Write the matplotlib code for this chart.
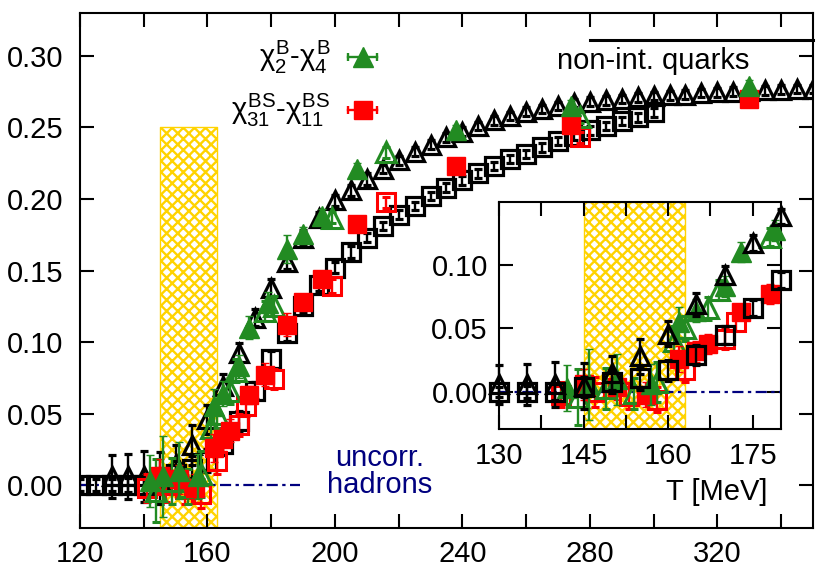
import matplotlib
matplotlib.use('Agg')
import matplotlib.pyplot as plt
import numpy as np

plt.rcParams['font.family'] = ['Liberation Sans', 'DejaVu Sans']
plt.rcParams['mathtext.fontset'] = 'custom'
plt.rcParams['mathtext.rm'] = 'Liberation Sans'
plt.rcParams['mathtext.it'] = 'Liberation Sans'
plt.rcParams['mathtext.bf'] = 'Liberation Sans:bold'
plt.rcParams['hatch.linewidth'] = 1.7

# continuum estimates (black)
T_tri = [130, 135, 140, 145, 150, 155, 160, 165, 170, 175, 180, 185, 190, 195, 200,
         205, 210, 215, 220, 225, 230, 235, 240, 245, 250, 255, 260, 265, 270, 275,
         280, 285, 290, 295, 300, 305, 310, 315, 320, 325, 330, 335, 340, 345, 350]
v_tri = [0.006, 0.006, 0.006, 0.005, 0.015, 0.028, 0.046, 0.069, 0.092, 0.117, 0.138,
         0.156, 0.173, 0.187, 0.199, 0.206, 0.214, 0.221, 0.227, 0.233, 0.238, 0.243,
         0.247, 0.251, 0.255, 0.258, 0.261, 0.263, 0.265, 0.267, 0.268, 0.269, 0.270,
         0.271, 0.272, 0.2725, 0.273, 0.274, 0.2745, 0.275, 0.2755, 0.276, 0.2765,
         0.277, 0.277]
e_tri = [0.015, 0.016, 0.018, 0.018, 0.013, 0.014, 0.010, 0.009, 0.007, 0.006, 0.006,
         0.005, 0.005, 0.004, 0.004, 0.004, 0.004, 0.003, 0.003, 0.003, 0.003, 0.003,
         0.003, 0.003, 0.003, 0.003, 0.003, 0.003, 0.003, 0.003, 0.003, 0.003, 0.003,
         0.003, 0.003, 0.003, 0.003, 0.003, 0.003, 0.003, 0.003, 0.003, 0.003, 0.003,
         0.003]

T_sq = [120, 125, 130, 135, 140, 145, 150, 155, 160, 165, 170, 175, 180, 185, 190,
        195, 200, 205, 210, 215, 220, 225, 230, 235, 240, 245, 250, 255, 260, 265,
        270, 275, 280, 285, 290, 295, 300]
v_sq = [0.0, 0.0, 0.0, 0.0, 0.0, 0.004, 0.008, 0.011, 0.017, 0.029, 0.045, 0.066,
        0.088, 0.106, 0.125, 0.140, 0.152, 0.163, 0.173, 0.181, 0.189, 0.195, 0.202,
        0.208, 0.213, 0.218, 0.223, 0.228, 0.2315, 0.236, 0.2405, 0.244, 0.248,
        0.251, 0.2545, 0.257, 0.2605]
e_sq = [0.004, 0.004, 0.004, 0.005, 0.006, 0.008, 0.009, 0.009, 0.008, 0.008, 0.007,
        0.006, 0.006, 0.005, 0.004, 0.004, 0.004, 0.004, 0.003, 0.003, 0.003, 0.003,
        0.003, 0.003, 0.003, 0.003, 0.003, 0.003, 0.003, 0.003, 0.003, 0.003, 0.003,
        0.003, 0.003, 0.003, 0.003]

# chi2B - chi4B
T_g1 = [142, 146, 151, 157, 162, 165, 170, 173, 179, 185, 190, 196, 207, 238, 274, 330]
v_g1 = [0.003, 0.006, 0.010, 0.006, 0.055, 0.064, 0.083, 0.110, 0.127, 0.165, 0.1755,
        0.188, 0.221, 0.248, 0.265, 0.279]
e_g1 = [0.018, 0.028, 0.020, 0.016, 0.012, 0.009, 0.008, 0.008, 0.008, 0.010, 0.005,
        0.005, 0.004, 0.004, 0.004, 0.004]
T_g2 = [144, 149, 154, 158, 161, 163, 167, 169, 178, 181, 199, 216, 277]
v_g2 = [-0.004, 0.003, -0.001, 0.008, 0.040, 0.050, 0.066, 0.080, 0.122, 0.125, 0.187,
        0.2326, 0.257]
e_g2 = [0.022, 0.016, 0.012, 0.016, 0.012, 0.010, 0.009, 0.008, 0.007, 0.007, 0.004,
        0.004, 0.004]

# chi31BS - chi11BS
T_r1 = [145, 151, 156, 162, 165, 167, 173, 178, 185, 190, 196, 207, 238, 274, 330]
v_r1 = [0.006, 0.004, -0.002, 0.026, 0.032, 0.038, 0.063, 0.077, 0.112, 0.128, 0.144,
        0.1825, 0.223, 0.252, 0.270]
e_r1 = [0.012, 0.010, 0.010, 0.010, 0.008, 0.008, 0.006, 0.008, 0.008, 0.005, 0.004,
        0.004, 0.004, 0.004, 0.004]
T_r2 = [141, 147, 153, 158, 163, 170, 172, 181, 199, 216, 277]
v_r2 = [-0.002, 0.000, -0.003, -0.006, 0.017, 0.042, 0.055, 0.074, 0.139, 0.1976, 0.243]
e_r2 = [0.010, 0.012, 0.010, 0.010, 0.009, 0.008, 0.007, 0.007, 0.005, 0.004, 0.004]

band = (145, 163)
GREEN = '#228B22'
RED = '#FF0000'
NAVY = '#00007F'
GOLD = '#FFD300'
FS = 21


def draw_series(ax, sel=None, clip=True, black_on_top=False):
    def pick(T, v, e):
        if sel is None:
            return T, v, e
        idx = [i for i, t in enumerate(T) if sel[0] <= t <= sel[1]]
        return [T[i] for i in idx], [v[i] for i in idx], [e[i] for i in idx]

    zb = 6 if black_on_top else 3
    zc = 4 if black_on_top else 5
    kw = dict(elinewidth=1.7, capsize=2.8, capthick=1.7, linestyle='none')
    t, v, e = pick(T_sq, v_sq, e_sq)
    l = ax.errorbar(t, v, yerr=e, fmt='s', ms=12.5, mfc='none', mec='k', mew=2.3,
                    ecolor='k', zorder=zb, **kw)
    t, v, e = pick(T_tri, v_tri, e_tri)
    l2 = ax.errorbar(t, v, yerr=e, fmt='^', ms=13.5, mfc='none', mec='k', mew=2.3,
                     ecolor='k', zorder=zb + 0.1, **kw)
    t, v, e = pick(T_r2, v_r2, e_r2)
    l3 = ax.errorbar(t, v, yerr=e, fmt='s', ms=12.5, mfc='none', mec=RED, mew=2.2,
                     ecolor=RED, zorder=zc, **kw)
    t, v, e = pick(T_g2, v_g2, e_g2)
    l4 = ax.errorbar(t, v, yerr=e, fmt='^', ms=14, mfc='none', mec=GREEN, mew=2.2,
                     ecolor=GREEN, zorder=zc + 0.1, **kw)
    t, v, e = pick(T_r1, v_r1, e_r1)
    l5 = ax.errorbar(t, v, yerr=e, fmt='s', ms=13, mfc=RED, mec=RED, mew=1,
                     ecolor=RED, zorder=zc + 0.2, **kw)
    t, v, e = pick(T_g1, v_g1, e_g1)
    l6 = ax.errorbar(t, v, yerr=e, fmt='^', ms=15, mfc=GREEN, mec=GREEN, mew=1,
                     ecolor=GREEN, zorder=zc + 0.3, **kw)
    if not clip:
        for c in (l, l2, l3, l4, l5, l6):
            for art in c.get_children():
                art.set_clip_on(False)


fig = plt.figure(figsize=(8.22, 5.79), dpi=100)
ax = fig.add_axes([0.0973, 0.0881, 0.8917, 0.8894])

ax.fill_between(band, -0.03, 0.25, facecolor='white', edgecolor=GOLD,
                hatch='xxx', linewidth=1.0, zorder=1)
ax.plot([120, 189], [0, 0], color=NAVY, lw=1.6, ls=(0, (5, 2, 1.5, 2)), zorder=2)
ax.plot([280, 350], [0.311, 0.311], color='k', lw=2.2, zorder=2, clip_on=False)
draw_series(ax)

ax.set_xlim(120, 350)
ax.set_ylim(-0.03, 0.33)
xt = list(range(120, 350, 20))
ax.set_xticks(xt)
ax.set_xticklabels([str(t) if (t - 120) % 40 == 0 else '' for t in xt])
yt = [0.0, 0.05, 0.10, 0.15, 0.20, 0.25, 0.30]
ax.set_yticks(yt)
ax.set_yticklabels(['%.2f' % y for y in yt])
ax.tick_params(direction='in', top=True, right=True, length=10, width=1.5,
               labelsize=FS)
ax.tick_params(axis='y', pad=12)
ax.tick_params(axis='x', pad=9)
for s in ax.spines.values():
    s.set_linewidth(1.5)

ax.text(299.8, 0.2967, 'non-int. quarks', fontsize=FS, ha='center', va='center')
ax.text(214, 0.019, 'uncorr.', fontsize=FS, ha='center', va='center', color=NAVY)
ax.text(214, 0.0, 'hadrons', fontsize=FS, ha='center', va='center', color=NAVY)

# legend drawn by hand, gnuplot style
leg = [(r'$\chi_2^B$-$\chi_4^B$', GREEN, '^', 15, 0.9146),
       (r'$\chi_{31}^{BS}$-$\chi_{11}^{BS}$', RED, 's', 13, 0.8117)]
for lab, col, mk, ms, yy in leg:
    ax.text(0.342, yy, lab, fontsize=21, ha='right', va='center',
            transform=ax.transAxes)
    ax.plot([0.366, 0.405], [yy, yy], color=col, lw=1.7, transform=ax.transAxes)
    ax.plot([0.366, 0.405], [yy, yy], color=col, ls='none', marker='|', ms=6,
            mew=1.7, transform=ax.transAxes)
    ax.plot([0.3855], [yy], color=col, marker=mk, ms=ms, ls='none',
            transform=ax.transAxes)

# inset
axi = fig.add_axes([0.607, 0.259, 0.343, 0.3926])
axi.set_facecolor('white')
axi.set_zorder(10)
axi.axvspan(band[0], band[1], facecolor='white', edgecolor=GOLD,
            hatch='xxx', linewidth=1.0, zorder=1)
axi.plot([130, 180], [0, 0], color=NAVY, lw=1.6, ls=(0, (5, 2, 1.5, 2)), zorder=2)
draw_series(axi, sel=(130, 180), clip=False, black_on_top=True)
axi.set_xlim(130, 180)
axi.set_ylim(-0.029, 0.1495)
xti = [130, 137.5, 145, 152.5, 160, 167.5, 175]
axi.set_xticks(xti)
axi.set_xticklabels(['130', '', '145', '', '160', '', '175'])
axi.set_yticks([0.0, 0.05, 0.10])
axi.set_yticklabels(['0.00', '0.05', '0.10'])
axi.tick_params(direction='in', top=True, right=True, length=10, width=1.5,
                labelsize=FS)
axi.tick_params(axis='y', pad=8)
axi.tick_params(axis='x', pad=9)
for s in axi.spines.values():
    s.set_linewidth(1.5)

fig.text(0.872, 0.150, 'T [MeV]', fontsize=FS, ha='center', va='center')

fig.savefig('out.png', dpi=100)
